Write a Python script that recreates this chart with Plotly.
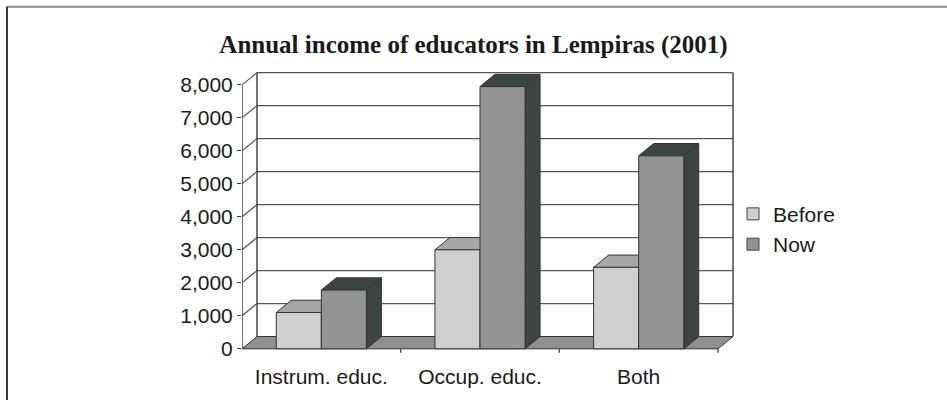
import plotly.graph_objects as go

# ---- data ----
categories = ["Instrum. educ.", "Occup. educ.", "Both"]
before = [1100, 3000, 2470]
now = [1780, 7950, 5850]
ytick_vals = [0, 1000, 2000, 3000, 4000, 5000, 6000, 7000, 8000]
ytick_text = ["0", "1,000", "2,000", "3,000", "4,000", "5,000", "6,000", "7,000", "8,000"]
series_names = ["Before", "Now"]

# ---- geometry (pixels -> data units) ----
W, H = 947, 400
ML, MR, MT, MB = 242, 213, 70, 38
PX_PER_CAT = 158.67
PX_PER_VAL = 33.33 / 1000.0
ZERO_PX = 351.7
plot_w = W - ML - MR
plot_h = H - MT - MB
x_range = [-0.5, -0.5 + plot_w / PX_PER_CAT]
y_lo = -((MT + plot_h) - ZERO_PX) / PX_PER_VAL
y_range = [y_lo, y_lo + plot_h / PX_PER_VAL]

DX = 15.0 / PX_PER_CAT        # depth offset in x units
DY = 12.4 / PX_PER_VAL        # depth offset in y units
BAR_W = 0.284
n = len(categories)
x_left, x_right = -0.5, n - 0.5
ymax = ytick_vals[-1]

FONT = "Liberation Sans, Arial, Helvetica, sans-serif"
OUT = "#333333"
GRID = "#555555"

fig = go.Figure()


def poly(xs, ys, fill, lw=1, lc=OUT):
    fig.add_trace(go.Scatter(x=xs, y=ys, mode="lines", fill="toself", fillcolor=fill,
                             line=dict(color=lc, width=lw), hoverinfo="skip", showlegend=False))


def line(xs, ys, color=GRID, width=1.2):
    fig.add_trace(go.Scatter(x=xs, y=ys, mode="lines", line=dict(color=color, width=width),
                             hoverinfo="skip", showlegend=False))


# gridlines on back wall + left wall diagonals
gx, gy = [], []
for v in ytick_vals[1:]:
    gx += [x_left, x_left + DX, x_right + DX, None]
    gy += [v, v + DY, v + DY, None]
line(gx, gy)
# wall verticals
line([x_left + DX, x_left + DX, None, x_right + DX, x_right + DX],
     [DY, ymax + DY, None, DY, ymax + DY], color="#3a3a3a", width=1.4)
# front value axis
line([x_left, x_left], [0, ymax], color="#3a3a3a", width=1.4)

# floor
poly([x_left, x_right, x_right + DX, x_left + DX, x_left],
     [0, 0, DY, DY, 0], "#8f8f8f")
# category ticks
tx, ty = [], []
for i in range(1, n + 1):
    tx += [i - 0.5, i - 0.5, None]
    ty += [0, -4 / PX_PER_VAL, None]
line(tx, ty, color="#3a3a3a", width=1.2)


def bars(values, offset, front, top, side):
    sx, sy, tpx, tpy, fx, fy = [], [], [], [], [], []
    for i, v in enumerate(values):
        x0 = i + offset
        x1 = x0 + BAR_W
        sx += [x1, x1, x1 + DX, x1 + DX, x1, None]
        sy += [0, v, v + DY, DY, 0, None]
        tpx += [x0, x1, x1 + DX, x0 + DX, x0, None]
        tpy += [v, v, v + DY, v + DY, v, None]
        fx += [x0, x1, x1, x0, x0, None]
        fy += [0, 0, v, v, 0, None]
    poly(sx, sy, side)
    poly(tpx, tpy, top)
    poly(fx, fy, front)


bars(before, -BAR_W, "#d0d0d0", "#a7a7a7", "#707070")
bars(now, 0.0, "#939393", "#3d4543", "#3d4543")

# legend entries
for name, col in zip(series_names, ["#d0d0d0", "#939393"]):
    fig.add_trace(go.Scatter(x=[None], y=[None], mode="markers", name=name,
                             marker=dict(symbol="square", size=12, color=col,
                                         line=dict(color="#444444", width=1))))

fig.update_layout(
    width=W, height=H,
    margin=dict(l=ML, r=MR, t=MT, b=MB, pad=0),
    paper_bgcolor="white", plot_bgcolor="white",
    title=dict(text="<b>Annual income of educators in Lempiras (2001)</b>",
               x=0.5, xanchor="center", y=1 - 44 / H, yanchor="middle",
               font=dict(family="Liberation Serif, DejaVu Serif, serif", size=25, color="#1a1a1a")),
    xaxis=dict(range=x_range, tickmode="array", tickvals=list(range(n)), ticktext=categories,
               showgrid=False, zeroline=False, showline=False, ticks="", ticklabelstandoff=3,
               tickfont=dict(family=FONT, size=21, color="#1a1a1a"), fixedrange=True),
    yaxis=dict(range=y_range, tickmode="array", tickvals=ytick_vals, ticktext=ytick_text,
               showgrid=False, zeroline=False, showline=False, ticks="outside", ticklen=4,
               tickcolor="#3a3a3a", tickwidth=1.4,
               tickfont=dict(family=FONT, size=21, color="#1a1a1a"), fixedrange=True),
    legend=dict(x=(733 - ML) / plot_w, xanchor="left", y=1 - (195 - MT) / plot_h, yanchor="top",
                font=dict(family=FONT, size=21, color="#1a1a1a"), bgcolor="rgba(0,0,0,0)"),
    showlegend=True,
    shapes=[
        dict(type="line", xref="paper", yref="paper",
             x0=(7 - ML) / plot_w, x1=(W + 10 - ML) / plot_w,
             y0=1 + (MT - 6) / plot_h, y1=1 + (MT - 6) / plot_h,
             line=dict(color="#8a8a8a", width=2)),
        dict(type="line", xref="paper", yref="paper",
             x0=(7 - ML) / plot_w, x1=(7 - ML) / plot_w,
             y0=1 + (MT - 6) / plot_h, y1=-(MB + 10) / plot_h,
             line=dict(color="#3a3a3a", width=2)),
    ],
)

fig.write_html("out.html", config={"displayModeBar": False},
               post_script="document.body.style.margin='0';")
